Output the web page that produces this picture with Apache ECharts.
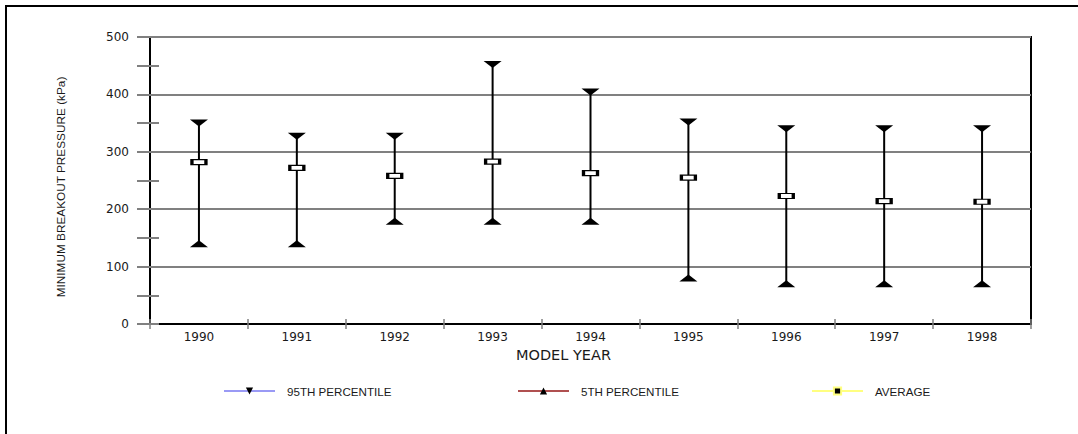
<!DOCTYPE html>
<html>
<head>
<meta charset="utf-8">
<script src="https://cdn.jsdelivr.net/npm/echarts@6/dist/echarts.min.js"></script>
<style>html,body{margin:0;padding:0;background:#fff;}#c{width:1078px;height:434px;}</style>
</head>
<body>
<div id="c"></div>
<script>
var years = ['1990','1991','1992','1993','1994','1995','1996','1997','1998'];
var p95 = [350, 327, 327, 452, 404, 352, 340, 340, 340];
var p5 = [140, 140, 179, 179, 179, 80, 70, 70, 70];
var avg = [282, 272, 258, 283, 263, 255, 223, 214, 213];
var yTicks = {min: 0, max: 500, interval: 100};
var yTitle = 'MINIMUM BREAKOUT PRESSURE (kPa)';
var xTitle = 'MODEL YEAR';

var whisker = years.map(function (y, i) { return [i, p5[i], p95[i]]; });
var downTri = 'path://M0,0L18,0L9,7Z';
var upTri = 'path://M9,0L18,7L0,7Z';
var fontA = '"Liberation Sans", Arial, sans-serif';
var fontD = '"DejaVu Sans", sans-serif';
var txt = '#1a1a1a';

var chart = echarts.init(document.getElementById('c'), null, {renderer: 'svg'});
function legendAt(left, name, lineColor, itemColor, border) {
  return {
    left: left, top: 380, itemWidth: 51, itemHeight: 9,
    data: [{name: name,
      itemStyle: {color: itemColor, borderColor: border || itemColor, borderWidth: border ? 2 : 0, opacity: 1},
      lineStyle: {color: lineColor, width: 2, opacity: 1, type: 'solid'}}],
    textStyle: {fontFamily: fontA, fontSize: 11.6, color: txt, padding: [0, 0, 0, 7]},
    selectedMode: false
  };
}
chart.setOption({
  animation: false,
  backgroundColor: '#fff',
  graphic: [{type: 'rect', z: -10, shape: {x: 6, y: 6, width: 1200, height: 1000},
    style: {fill: 'none', stroke: '#000', lineWidth: 2}},
    {type: 'text', x: 61, y: 187, rotation: Math.PI / 2,
     style: {text: yTitle, font: '11.8px ' + fontA, fill: txt, textAlign: 'center', textVerticalAlign: 'middle'}}],
  grid: {left: 150, top: 37, right: 47, bottom: 110, show: true, borderColor: '#000', borderWidth: 2, backgroundColor: 'transparent'},
  legend: [
    legendAt(218, '95TH PERCENTILE', '#9a9af5', '#000'),
    legendAt(512, '5TH PERCENTILE', '#b05050', '#000'),
    legendAt(806, 'AVERAGE', '#ffff80', '#000', '#ffff80')
  ],
  xAxis: [{
    type: 'category', data: years, boundaryGap: true,
    axisLine: {lineStyle: {color: '#000', width: 2}},
    axisTick: {show: true, length: 5, lineStyle: {color: '#808080', width: 1.5}},
    axisLabel: {fontFamily: fontD, fontSize: 12, color: txt, margin: 7},
    name: xTitle, nameLocation: 'middle', nameGap: 14,
    nameTextStyle: {fontFamily: fontD, fontSize: 14.5, color: txt, padding: [0, 54, 0, 0]},
    splitLine: {show: false}
  }, {
    type: 'category', data: years, boundaryGap: true, position: 'bottom',
    axisLine: {show: false}, axisLabel: {show: false},
    axisTick: {show: true, inside: true, length: 5, lineStyle: {color: '#808080', width: 1.5}},
    splitLine: {show: false}
  }],
  yAxis: [{
    type: 'value', min: yTicks.min, max: yTicks.max, interval: yTicks.interval,
    axisLine: {show: true, lineStyle: {color: '#000', width: 2}},
    axisTick: {show: true, length: 13, lineStyle: {color: '#808080', width: 2}},
    minorTick: {show: true, splitNumber: 2, length: 13, lineStyle: {color: '#808080', width: 2}},
    axisLabel: {fontFamily: fontD, fontSize: 12, color: txt, margin: 21},
    splitLine: {show: true, lineStyle: {color: '#808080', width: 2}}
  }, {
    type: 'value', min: yTicks.min, max: yTicks.max, interval: yTicks.interval, position: 'left',
    axisLine: {show: false}, axisLabel: {show: false}, splitLine: {show: false},
    axisTick: {show: true, inside: true, length: 9, lineStyle: {color: '#808080', width: 2}},
    minorTick: {show: true, splitNumber: 2, length: 9, lineStyle: {color: '#808080', width: 2}}
  }],
  series: [{
    type: 'custom', name: 'range', z: 2,
    data: whisker,
    renderItem: function (params, api) {
      var a = api.coord([api.value(0), api.value(1)]);
      var b = api.coord([api.value(0), api.value(2)]);
      return {type: 'line', shape: {x1: a[0], y1: a[1], x2: b[0], y2: b[1]},
        style: {stroke: '#000', lineWidth: 2}};
    },
    encode: {x: 0, y: [1, 2]}
  }, {
    type: 'line', name: '95TH PERCENTILE', data: p95, z: 3,
    lineStyle: {opacity: 0, width: 0}, symbol: downTri, symbolSize: [18, 7],
    itemStyle: {color: '#000'}, showAllSymbol: true
  }, {
    type: 'line', name: '5TH PERCENTILE', data: p5, z: 3,
    lineStyle: {opacity: 0, width: 0}, symbol: upTri, symbolSize: [18, 7],
    itemStyle: {color: '#000'}, showAllSymbol: true
  }, {
    type: 'line', name: 'AVERAGE', data: avg, z: 4,
    lineStyle: {opacity: 0, width: 0}, symbol: 'rect', symbolSize: [14, 5],
    itemStyle: {color: '#fff', borderColor: '#000', borderWidth: 2}, showAllSymbol: true
  }]
});
</script>
</body>
</html>
